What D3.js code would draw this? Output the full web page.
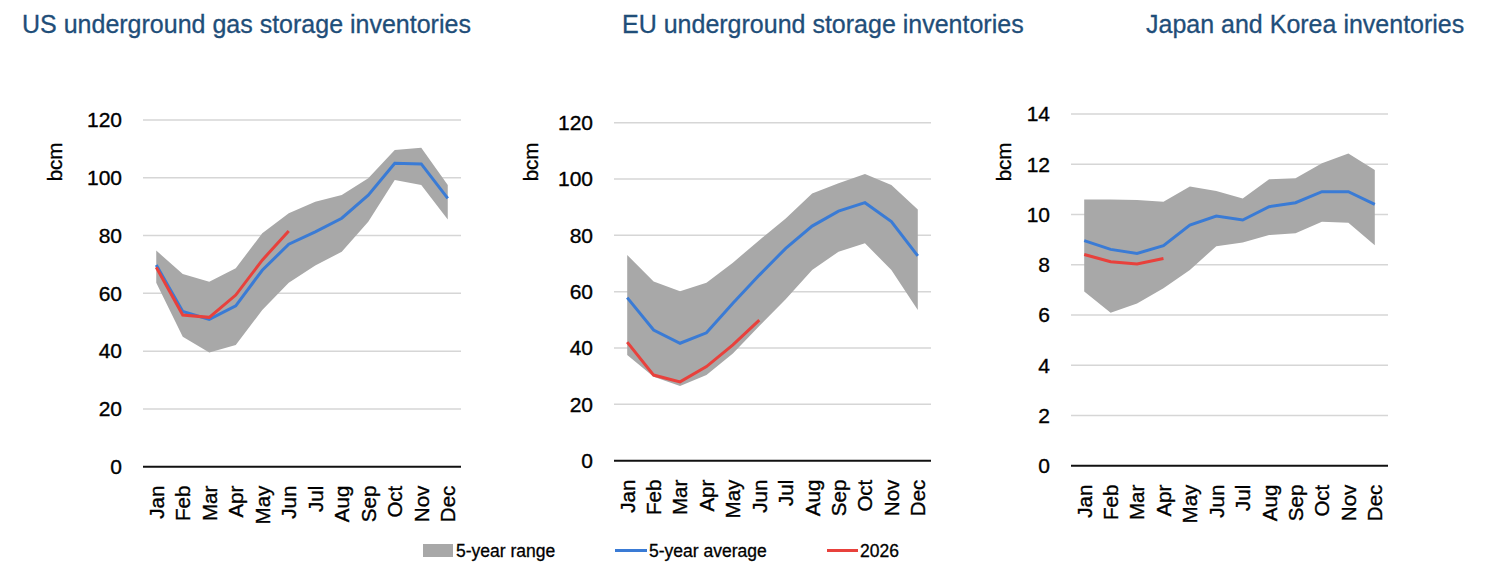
<!DOCTYPE html>
<html lang="en">
<head>
<meta charset="UTF-8">
<title>Gas storage inventories</title>
<script src="https://d3js.org/d3.v7.min.js"></script>
<style>
  body { margin: 0; background: #fff; }
  svg { display: block; font-family: "Liberation Sans", Arial, sans-serif; }
  .title { fill: #1f4e79; font-size: 25px; stroke: #1f4e79; stroke-width: 0.3px; }
  .tick-label { fill: #000; font-size: 21px; stroke: #000; stroke-width: 0.35px; }
  .unit { fill: #000; font-size: 20.5px; stroke: #000; stroke-width: 0.35px; }
  .grid { stroke: #d6d6d6; stroke-width: 1.5px; }
  .baseline { stroke: #111; stroke-width: 2px; }
  .band { fill: #a8a8a8; }
  .avg { fill: none; stroke: #3a7bd5; stroke-width: 3px; }
  .cur { fill: none; stroke: #e8413c; stroke-width: 3px; }
  .legend text { fill: #000; font-size: 17.5px; stroke: #000; stroke-width: 0.3px; }
</style>
</head>
<body>
<script>
  const months = ["Jan", "Feb", "Mar", "Apr", "May", "Jun", "Jul", "Aug", "Sep", "Oct", "Nov", "Dec"];

  // US underground gas storage (bcm)
  const usMin = [63.7, 45, 39.5, 42.1, 54.2, 63.7, 69.6, 74.4, 84.8, 99.2, 97.5, 85.6];
  const usMax = [74.8, 66.7, 64, 68.7, 80.8, 87.7, 91.7, 94, 99.8, 109.6, 110.4, 97.5];
  const usAvg = [69.8, 53.7, 51, 55.7, 68, 77, 81.3, 86, 94, 105, 104.8, 92.9];
  const us2026 = [69, 52.5, 51.7, 59.4, 71.5, 81.6];

  // EU underground storage (bcm)
  const euMin = [37.5, 29.8, 26.5, 30.4, 38.1, 47.8, 57.3, 67.7, 74.2, 77.2, 67.7, 53.5];
  const euMax = [73, 63.6, 60.2, 63.2, 70.3, 78.3, 86, 94.9, 98.5, 101.8, 97.9, 89.2];
  const euAvg = [57.9, 46.4, 41.7, 45.4, 55.9, 65.9, 75.4, 83.3, 88.6, 91.6, 84.9, 72.7];
  const eu2026 = [42.1, 30.4, 28, 33.4, 41.1, 49.9];

  // Japan and Korea (bcm)
  const jkMin = [6.93, 6.09, 6.46, 7.06, 7.79, 8.74, 8.88, 9.18, 9.25, 9.71, 9.67, 8.78];
  const jkMax = [10.6, 10.6, 10.58, 10.51, 11.11, 10.93, 10.64, 11.4, 11.44, 12.04, 12.43, 11.77];
  const jkAvg = [8.96, 8.61, 8.45, 8.76, 9.58, 9.94, 9.78, 10.31, 10.47, 10.91, 10.91, 10.4];
  const jk2026 = [8.41, 8.12, 8.03, 8.25];

  const usTicks = [0, 20, 40, 60, 80, 100, 120];
  const euTicks = [0, 20, 40, 60, 80, 100, 120];
  const jkTicks = [0, 2, 4, 6, 8, 10, 12, 14];

  const legendItems = ["5-year range", "5-year average", "2026"];

  const width = 1492, height = 572;

  const svg = d3.select("body").append("svg")
    .attr("width", width)
    .attr("height", height);

  const panels = [
    { title: "US underground gas storage inventories", titleX: 22,
      left: 143, right: 461, top: 120, bottom: 466.7, max: 120, ticks: usTicks, unitX: 62,
      min: usMin, hi: usMax, avg: usAvg, cur: us2026 },
    { title: "EU underground storage inventories", titleX: 622,
      left: 614, right: 931, top: 122.7, bottom: 460.7, max: 120, ticks: euTicks, unitX: 538,
      min: euMin, hi: euMax, avg: euAvg, cur: eu2026 },
    { title: "Japan and Korea inventories", titleX: 1146,
      left: 1071, right: 1388, top: 114, bottom: 465.7, max: 14, ticks: jkTicks, unitX: 1011,
      min: jkMin, hi: jkMax, avg: jkAvg, cur: jk2026 }
  ];

  panels.forEach(p => {
    const g = svg.append("g");

    const x = d3.scaleBand().domain(months).range([p.left, p.right]);
    const cx = m => x(m) + x.bandwidth() / 2;
    const y = d3.scaleLinear().domain([0, p.max]).range([p.bottom, p.top]);

    g.append("text")
      .attr("class", "title")
      .attr("x", p.titleX)
      .attr("y", 33)
      .text(p.title);

    // gridlines
    g.selectAll(".grid")
      .data(p.ticks.filter(t => t > 0))
      .enter()
      .append("line")
      .attr("class", "grid")
      .attr("x1", p.left)
      .attr("x2", p.right)
      .attr("y1", d => y(d))
      .attr("y2", d => y(d));

    // y labels
    g.selectAll(".tick-label.y")
      .data(p.ticks)
      .enter()
      .append("text")
      .attr("class", "tick-label y")
      .attr("x", p.left - 21)
      .attr("y", d => y(d))
      .attr("dy", "0.35em")
      .attr("text-anchor", "end")
      .text(d => d);

    g.append("text")
      .attr("class", "unit")
      .attr("transform", `translate(${p.unitX},162) rotate(-90)`)
      .attr("text-anchor", "middle")
      .text("bcm");

    // 5-year range
    const area = d3.area()
      .x((d, i) => cx(months[i]))
      .y0((d, i) => y(p.min[i]))
      .y1(d => y(d));
    g.append("path")
      .attr("class", "band")
      .attr("d", area(p.hi));

    const line = d3.line()
      .x((d, i) => cx(months[i]))
      .y(d => y(d));

    g.append("path").attr("class", "avg").attr("d", line(p.avg));
    g.append("path").attr("class", "cur").attr("d", line(p.cur));

    // zero axis
    g.append("line")
      .attr("class", "baseline")
      .attr("x1", p.left)
      .attr("x2", p.right)
      .attr("y1", y(0))
      .attr("y2", y(0));

    // month labels
    g.selectAll(".tick-label.x")
      .data(months)
      .enter()
      .append("text")
      .attr("class", "tick-label x")
      .attr("transform", d => `translate(${cx(d)},${y(0) + 19}) rotate(-90)`)
      .attr("dy", "0.36em")
      .attr("text-anchor", "end")
      .style("font-size", "20.5px")
      .text(d => d);
  });

  // legend
  const legend = svg.append("g").attr("class", "legend");
  const lx = [423, 615, 827];
  const ly = 550.5;
  legend.append("rect")
    .attr("x", lx[0]).attr("y", ly - 6.5)
    .attr("width", 30).attr("height", 13)
    .attr("fill", "#a8a8a8");
  legend.append("line")
    .attr("class", "avg")
    .attr("x1", lx[1]).attr("x2", lx[1] + 32)
    .attr("y1", ly).attr("y2", ly);
  legend.append("line")
    .attr("class", "cur")
    .attr("x1", lx[2]).attr("x2", lx[2] + 31)
    .attr("y1", ly).attr("y2", ly);
  legend.selectAll("text")
    .data(legendItems)
    .enter()
    .append("text")
    .attr("x", (d, i) => lx[i] + [33, 34, 33][i])
    .attr("y", ly)
    .attr("dy", "0.36em")
    .text(d => d);
</script>
</body>
</html>
